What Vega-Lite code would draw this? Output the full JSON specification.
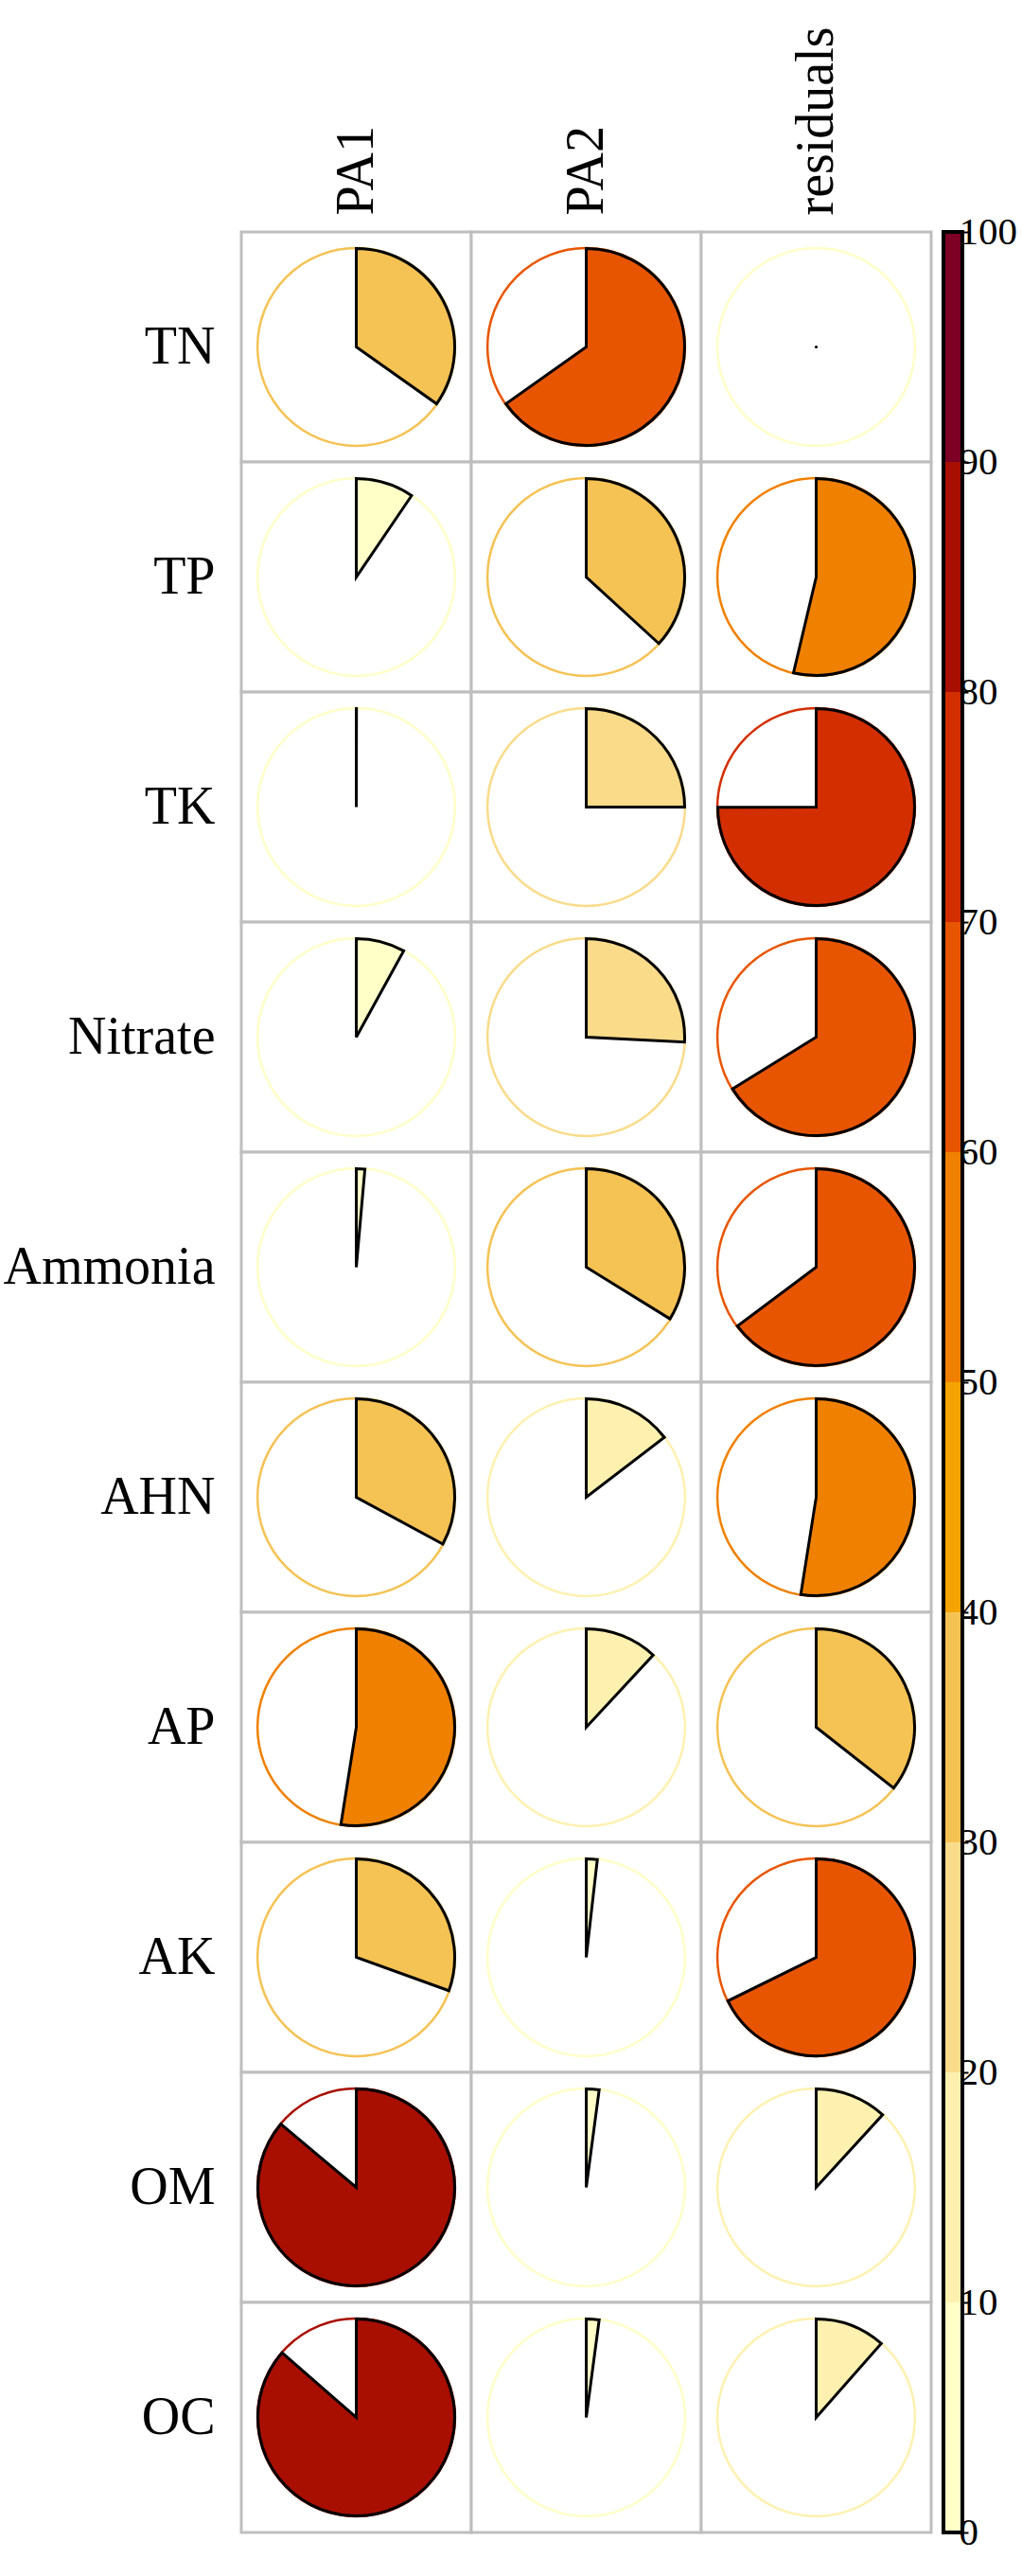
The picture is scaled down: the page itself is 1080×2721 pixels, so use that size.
{
  "$schema": "https://vega.github.io/schema/vega-lite/v6.json",
  "background": "white",
  "padding": {"left": 3, "top": 27, "right": 0, "bottom": 0},
  "config": {"font": "Liberation Serif", "view": {"stroke": null}},
  "spacing": 9,
  "datasets": {
    "cells": [
      {"row": "TN", "col": "PA1", "value": 34.8},
      {"row": "TN", "col": "PA2", "value": 65.2},
      {"row": "TN", "col": "residuals", "value": 0},
      {"row": "TP", "col": "PA1", "value": 9.5},
      {"row": "TP", "col": "PA2", "value": 36.8},
      {"row": "TP", "col": "residuals", "value": 53.7},
      {"row": "TK", "col": "PA1", "value": 0.03},
      {"row": "TK", "col": "PA2", "value": 25.0},
      {"row": "TK", "col": "residuals", "value": 74.97},
      {"row": "Nitrate", "col": "PA1", "value": 8.0},
      {"row": "Nitrate", "col": "PA2", "value": 25.8},
      {"row": "Nitrate", "col": "residuals", "value": 66.2},
      {"row": "Ammonia", "col": "PA1", "value": 1.4},
      {"row": "Ammonia", "col": "PA2", "value": 33.8},
      {"row": "Ammonia", "col": "residuals", "value": 64.8},
      {"row": "AHN", "col": "PA1", "value": 32.9},
      {"row": "AHN", "col": "PA2", "value": 14.6},
      {"row": "AHN", "col": "residuals", "value": 52.5},
      {"row": "AP", "col": "PA1", "value": 52.5},
      {"row": "AP", "col": "PA2", "value": 11.9},
      {"row": "AP", "col": "residuals", "value": 35.6},
      {"row": "AK", "col": "PA1", "value": 30.5},
      {"row": "AK", "col": "PA2", "value": 1.8},
      {"row": "AK", "col": "residuals", "value": 67.7},
      {"row": "OM", "col": "PA1", "value": 86.1},
      {"row": "OM", "col": "PA2", "value": 2.1},
      {"row": "OM", "col": "residuals", "value": 11.8},
      {"row": "OC", "col": "PA1", "value": 86.4},
      {"row": "OC", "col": "PA2", "value": 2.1},
      {"row": "OC", "col": "residuals", "value": 11.5}
    ],
    "bins": [
      {"lo": 0, "hi": 10}, {"lo": 10, "hi": 20}, {"lo": 20, "hi": 30}, {"lo": 30, "hi": 40},
      {"lo": 40, "hi": 50}, {"lo": 50, "hi": 60}, {"lo": 60, "hi": 70}, {"lo": 70, "hi": 80},
      {"lo": 80, "hi": 90}, {"lo": 90, "hi": 100}
    ]
  },
  "hconcat": [
    {
      "width": 729,
      "height": 2430,
      "data": {"name": "cells"},
      "encoding": {
        "x": {
          "field": "col", "type": "nominal", "sort": ["PA1", "PA2", "residuals"],
          "scale": {"type": "band", "paddingInner": 0, "paddingOuter": 0},
          "axis": {"orient": "top", "title": null, "labelAngle": 270, "labelFontSize": 56, "labelPadding": 18, "labelLimit": 0, "ticks": false, "domain": false, "labelColor": "black", "labelFont": "Liberation Serif"}
        },
        "y": {
          "field": "row", "type": "nominal",
          "sort": ["TN", "TP", "TK", "Nitrate", "Ammonia", "AHN", "AP", "AK", "OM", "OC"],
          "scale": {"type": "band", "paddingInner": 0, "paddingOuter": 0},
          "axis": {"title": null, "labelFontSize": 56, "labelPadding": 28, "labelLimit": 0, "ticks": false, "domain": false, "labelColor": "black", "labelFont": "Liberation Serif"}
        }
      },
      "layer": [
        {"mark": {"type": "rect", "fill": "white", "stroke": "#BEBEBE", "strokeWidth": 3}},
        {
          "mark": {"type": "point", "shape": "circle", "size": 43600, "filled": false, "strokeWidth": 2.5, "opacity": 1},
          "encoding": {
            "color": {"field": "value", "type": "quantitative", "legend": null,
              "scale": {"type": "threshold", "domain": [10, 20, 30, 40, 50, 60, 70, 80, 90],
                "range": ["#FFFFC8", "#FEF1B0", "#F9DB8A", "#F5C254", "#F5A300", "#F08000", "#E85500", "#D22E00", "#A80F00", "#7D0025"]}}
          }
        },
        {
          "transform": [{"filter": "datum.value > 0"}],
          "mark": {"type": "arc", "radius": 104, "stroke": "black", "strokeWidth": 3},
          "encoding": {
            "theta": {"field": "value", "type": "quantitative", "stack": null, "scale": {"domain": [0, 100], "range": [0, 6.283185307179586]}},
            "theta2": {"datum": 0},
            "color": {"field": "value", "type": "quantitative", "legend": null,
              "scale": {"type": "threshold", "domain": [10, 20, 30, 40, 50, 60, 70, 80, 90],
                "range": ["#FFFFC8", "#FEF1B0", "#F9DB8A", "#F5C254", "#F5A300", "#F08000", "#E85500", "#D22E00", "#A80F00", "#7D0025"]}}
          }
        },
        {
          "transform": [{"filter": "datum.value == 0"}],
          "mark": {"type": "point", "shape": "circle", "size": 10, "filled": true, "color": "black", "opacity": 1}
        }
      ]
    },
    {
      "width": 20,
      "height": 2430,
      "data": {"name": "bins"},
      "layer": [
        {
          "mark": {"type": "rect"},
          "encoding": {
            "y": {"field": "lo", "type": "quantitative",
              "scale": {"domain": [0, 100], "nice": false, "zero": false},
              "axis": {"orient": "right", "title": null, "values": [0, 10, 20, 30, 40, 50, 60, 70, 80, 90, 100],
                "tickSize": 6, "tickWidth": 2, "tickColor": "black", "labelFontSize": 41, "labelPadding": -10,
                "labelFlush": false, "labelOverlap": false, "domain": false, "grid": false,
                "labelColor": "black", "labelFont": "Liberation Serif", "labelBaseline": "middle"}},
            "y2": {"field": "hi"},
            "color": {"field": "lo", "type": "quantitative", "legend": null,
              "scale": {"type": "threshold", "domain": [10, 20, 30, 40, 50, 60, 70, 80, 90],
                "range": ["#FFFFC8", "#FEF1B0", "#F9DB8A", "#F5C254", "#F5A300", "#F08000", "#E85500", "#D22E00", "#A80F00", "#7D0025"]}}
          }
        },
        {
          "mark": {"type": "rect", "filled": false, "color": "black", "strokeWidth": 3},
          "encoding": {
            "y": {"datum": 0, "type": "quantitative"},
            "y2": {"datum": 100}
          }
        }
      ]
    }
  ]
}
